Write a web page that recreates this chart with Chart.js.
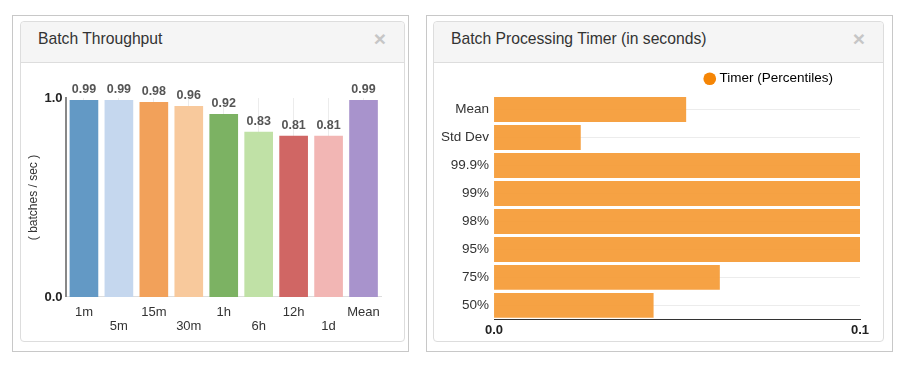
<!DOCTYPE html>
<html>
<head>
<meta charset="utf-8">
<script src="https://cdn.jsdelivr.net/npm/chart.js@4"></script>
<style>
  body { margin: 0; background: #fff; font-family: "Liberation Sans", Arial, sans-serif; }
  .outer { position: absolute; border: 1px solid #c8c8c8; box-sizing: border-box; }
  .panel { position: absolute; border: 1px solid #ddd; border-radius: 4px; box-sizing: border-box; background: #fff; }
  .hdr { position: absolute; left: 0; top: 0; right: 0; height: 40px; background: #f5f5f5; border-bottom: 1px solid #ddd; border-radius: 4px 4px 0 0; }
  .ttl { position: absolute; left: 17px; top: 9px; font-size: 15.7px; line-height: 15.7px; color: #333; }
  .cls { position: absolute; right: 18px; top: 6px; font-size: 21px; line-height: 21px; font-weight: bold; color: #c6c6c6; }
  canvas { position: absolute; }
</style>
</head>
<body>
<div class="outer" style="left:12px;top:15px;width:397px;height:337px"></div>
<div class="panel" style="left:20px;top:21px;width:385px;height:321px">
  <div class="hdr"><div class="ttl">Batch Throughput</div><div class="cls">×</div></div>
</div>
<canvas id="throughput" width="383" height="279" style="left:21px;top:62px"></canvas>

<div class="outer" style="left:426px;top:15px;width:467px;height:337px"></div>
<div class="panel" style="left:433px;top:21px;width:451px;height:321px">
  <div class="hdr"><div class="ttl">Batch Processing Timer (in seconds)</div><div class="cls">×</div></div>
</div>
<canvas id="timer" width="449" height="279" style="left:434px;top:62px"></canvas>

<script>
// Batch throughput (batches / sec)
const rateLabels = ['1m', '5m', '15m', '30m', '1h', '6h', '12h', '1d', 'Mean'];
const rateValues = [0.99, 0.99, 0.98, 0.96, 0.92, 0.83, 0.81, 0.81, 0.99];
const rateColors = ['#6399c5', '#c5d7ee', '#f2a15a', '#f8c99c', '#7cb263', '#c0e1a6', '#d06664', '#f2b6b4', '#a893cc'];

// Batch processing timer (seconds), axis stops at 0.1
const timerLabels = ['Mean', 'Std Dev', '99.9%', '99%', '98%', '95%', '75%', '50%'];
const timerValues = [0.0525, 0.0237, 0.16, 0.14, 0.13, 0.12, 0.0617, 0.0436];
const timerTicks = [0, 0.1];

const FONT = '"Liberation Sans", Arial, sans-serif';
Chart.defaults.font.family = FONT;
Chart.defaults.font.size = 13;
Chart.defaults.color = '#333';

// value text above each bar
const barValues = {
  id: 'barValues',
  afterDatasetsDraw(chart) {
    const ctx = chart.ctx;
    const meta = chart.getDatasetMeta(0);
    ctx.save();
    ctx.font = 'bold 12.5px ' + FONT;
    ctx.fillStyle = '#555';
    ctx.textAlign = 'center';
    ctx.textBaseline = 'bottom';
    meta.data.forEach((bar, i) => {
      ctx.fillText(rateValues[i].toFixed(2), bar.x, bar.y - 4);
    });
    ctx.restore();
  }
};

// staggered category labels (odd ones on a second row)
const staggered = rateLabels.map((l, i) => i % 2 ? ['', l] : [l]);

new Chart(document.getElementById('throughput'), {
  type: 'bar',
  data: {
    labels: staggered,
    datasets: [{
      data: rateValues,
      backgroundColor: rateColors,
      barPercentage: 0.82,
      categoryPercentage: 1
    }]
  },
  options: {
    responsive: false,
    animation: false,
    layout: { padding: { top: 36, right: 23, left: 0, bottom: -1 } },
    plugins: { legend: { display: false }, tooltip: { enabled: false } },
    scales: {
      x: {
        grid: { color: '#ececec', offset: false, drawTicks: false },
        border: { color: '#ddd' },
        ticks: { autoSkip: false, maxRotation: 0, padding: 9, color: '#333', font: { lineHeight: 1.04 } }
      },
      y: {
        min: 0,
        max: 1,
        afterBuildTicks: axis => { axis.ticks = [{ value: 0 }, { value: 1 }]; },
        grid: { display: false, drawTicks: false },
        border: { color: '#888', width: 2 },
        ticks: { font: { weight: 'bold' }, padding: 4, color: '#222', callback: v => v.toFixed(1) },
        title: { display: true, text: '( batches / sec )', color: '#333', font: { size: 12 }, padding: { top: 5, bottom: 0 } }
      }
    }
  },
  plugins: [barValues]
});

// push legend in from the right edge
const legendShift = {
  id: 'legendShift',
  afterLayout(chart) { chart.legend.right -= 17; }
};

new Chart(document.getElementById('timer'), {
  type: 'bar',
  data: {
    labels: timerLabels,
    datasets: [{
      label: 'Timer (Percentiles)',
      data: timerValues,
      backgroundColor: 'rgba(245,157,58,0.95)',
      barPercentage: 0.89,
      categoryPercentage: 1
    }]
  },
  options: {
    indexAxis: 'y',
    responsive: false,
    animation: false,
    layout: { padding: { top: 0, right: 23, left: 2, bottom: 0 } },
    plugins: {
      tooltip: { enabled: false },
      legend: {
        position: 'top',
        align: 'end',
        labels: {
          usePointStyle: true,
          pointStyle: 'circle',
          boxWidth: 6,
          boxHeight: 9,
          color: '#333',
          font: { size: 13.5 },
          generateLabels: chart => [{
            text: chart.data.datasets[0].label,
            fillStyle: '#f58505',
            strokeStyle: '#f58505',
            lineWidth: 0,
            pointStyle: 'circle',
            datasetIndex: 0
          }]
        }
      }
    },
    scales: {
      x: {
        min: 0,
        max: 0.1,
        afterBuildTicks: axis => { axis.ticks = timerTicks.map(v => ({ value: v })); },
        grid: { display: false, drawTicks: false },
        border: { color: '#333' },
        ticks: { font: { weight: 'bold' }, color: '#222', padding: 3, callback: v => v.toFixed(1) }
      },
      y: {
        grid: { color: '#ececec', offset: false, drawTicks: false },
        border: { display: false },
        ticks: { padding: 5, color: '#333', font: { size: 13.5 } }
      }
    }
  },
  plugins: [legendShift]
});
</script>
</body>
</html>
